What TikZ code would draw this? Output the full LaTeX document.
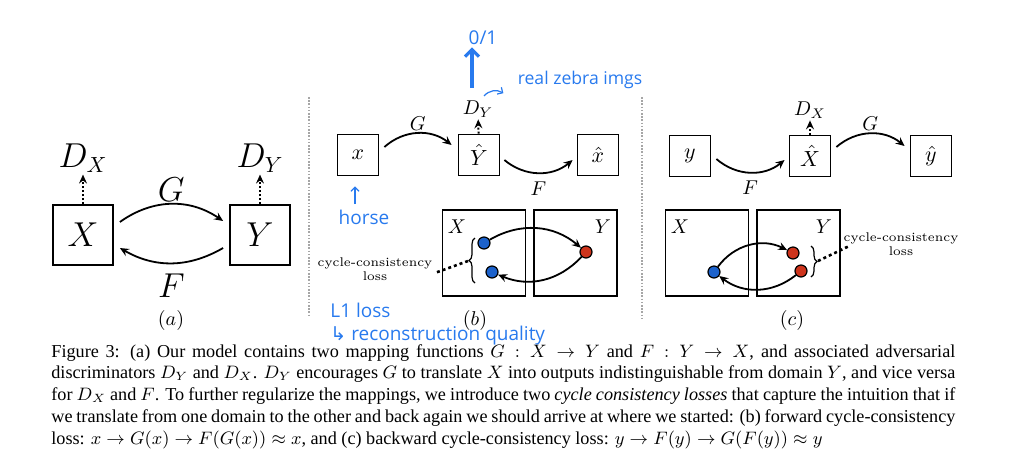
\documentclass[tikz,border=0pt]{standalone}
\usepackage{amsmath,amssymb}
\usepackage{fontspec}
\newfontfamily\capfont{Liberation Serif}
\newfontfamily\handfont{Open Sans}
\newfontfamily\symfont{DejaVu Sans}
\usepackage{xcolor}
\usetikzlibrary{arrows.meta,positioning,calc,decorations.pathreplacing}
\definecolor{dotblue}{RGB}{28,98,204}
\definecolor{dotred}{RGB}{206,52,28}
\definecolor{pen}{RGB}{40,122,238}

\begin{document}
\begin{tikzpicture}[x=0.5pt,y=-0.5pt,>={Stealth[length=4.5pt,width=4pt,inset=1.6pt]},
 box/.style={draw,line width=0.9pt,minimum size=20.5pt,inner sep=0pt,font=\fontsize{10.5}{12}\selectfont},
 bigbox/.style={box,minimum size=30pt,font=\fontsize{16}{18}\selectfont},
 dom/.style={draw,line width=0.9pt,minimum width=41.5pt,minimum height=43pt,inner sep=0pt},
 samp/.style={circle,draw,line width=0.6pt,minimum size=6pt,inner sep=0pt},
 lbl/.style={inner sep=1pt,font=\fontsize{10}{12}\selectfont},
 biglbl/.style={inner sep=1pt,font=\fontsize{16}{18}\selectfont},
 sub/.style={font=\fontsize{10}{12}\selectfont},
 cc/.style={align=center,inner sep=1pt,font=\fontsize{6.3}{7.2}\selectfont},
 arr/.style={->,line width=0.9pt},
 disc/.style={->,line width=1pt,dash pattern=on 1pt off 1pt},
 lossln/.style={line width=1.3pt,dash pattern=on 1.5pt off 1.5pt},
 brc/.style={decorate,decoration={brace,amplitude=3pt},line width=0.6pt},
 sep/.style={gray!70,line width=0.6pt,dash pattern=on 0.8pt off 0.8pt},
 hand/.style={pen,inner sep=1pt,font=\handfont\fontsize{9.5}{11}\selectfont},
 hthin/.style={pen,line width=0.6pt,->,>={Straight Barb[length=2pt,width=4pt]}},
 harr/.style={pen,line width=1.6pt,->,>={Straight Barb[length=3.5pt,width=7pt]}}]
 \useasboundingbox (0,0) rectangle (1024,462);
 % (a)
 \node[bigbox] (X) at (83,235) {$X$};
 \node[bigbox] (Y) at (260,235) {$Y$};
 \node[biglbl,anchor=base] (DX) at (83,167) {$D_X$};
 \node[biglbl,anchor=base] (DY) at (260,167) {$D_Y$};
 \draw[disc] (X) -- (DX);
 \draw[disc] (Y) -- (DY);
 \draw[arr] ([shift={(6,-13)}]X.east) to[bend left=35] node[biglbl,above] {$G$} ([shift={(-6,-14)}]Y.west);
 \draw[arr] ([shift={(-6,13)}]Y.west) to[bend left=30] node[biglbl,below=4pt] {$F$} ([shift={(6,13)}]X.east);
 \node[sub] (la) at (171,320) {$(a)$};
 \draw[sep] (309,97) -- (309,315);
 % (b) forward cycle
 \node[box] (xb) at (358,155) {$x$};
 \node[box] (Yb) at (479,155) {$\hat{Y}$};
 \node[box] (xhb) at (598,155) {$\hat{x}$};
 \node[lbl,anchor=base] (DYb) at (478,114) {$D_Y$};
 \draw[disc] (Yb) -- (DYb);
 \draw[arr] ([shift={(5,-8)}]xb.east) to[bend left=40] node[lbl,above] {$G$} ([shift={(-6,-10)}]Yb.west);
 \draw[arr] ([shift={(4,5)}]Yb.east) to[bend right=40] node[lbl,below=3pt] {$F$} ([shift={(-4,5)}]xhb.west);
 \node[dom] (XB) at (484,253) {};
 \node[dom] (YB) at (575.5,253) {};
 \node[lbl] (XBl) at (457,227) {$X$};
 \node[lbl] (YBl) at (603,227) {$Y$};
 \node[samp,fill=dotblue] (b1) at (484,243) {};
 \node[samp,fill=dotblue] (b2) at (492,272) {};
 \node[samp,fill=dotred] (r1) at (586,252) {};
 \draw[arr] (b1) to[bend left=35] (r1);
 \draw[arr] (r1) to[bend left=35] (b2);
 \draw[brc] (475,283) -- (475,238);
 \coordinate (bt) at (468,261);
 \node[cc] (clb) at (375,269) {cycle-consistency\\loss};
 \draw[lossln] (bt) -- ([yshift=-2pt]clb.east);
 \node[sub] (lb) at (475,320) {$(b)$};
 \draw[sep] (642,97) -- (642,318);
 % (c) backward cycle
 \node[box] (yc) at (690,156) {$y$};
 \node[box] (Xc) at (810,156) {$\hat{X}$};
 \node[box] (yhc) at (931,156) {$\hat{y}$};
 \node[lbl,anchor=base] (DXc) at (810,115) {$D_X$};
 \draw[disc] (Xc) -- (DXc);
 \draw[arr] ([shift={(5,3)}]yc.east) to[bend right=40] node[lbl,below=3pt] {$F$} ([shift={(-4,4)}]Xc.west);
 \draw[arr] ([shift={(5,-9)}]Xc.east) to[bend left=40] node[lbl,above] {$G$} ([shift={(-5,-10)}]yhc.west);
 \node[dom] (XC) at (707,253) {};
 \node[dom] (YC) at (798.5,253) {};
 \node[lbl] (XCl) at (680,227) {$X$};
 \node[lbl] (YCl) at (824,227) {$Y$};
 \node[samp,fill=dotblue] (c1) at (714,272) {};
 \node[samp,fill=dotred] (c2) at (793,253) {};
 \node[samp,fill=dotred] (c3) at (801,271) {};
 \draw[arr] (c1) to[bend left=40] (c2);
 \draw[arr] (c3) to[bend left=38] (c1);
 \draw[brc] (811,246) -- (811,277);
 \coordinate (ct) at (818,261);
 \node[cc] (clc) at (901,244) {cycle-consistency\\loss};
 \draw[lossln] (ct) -- ([shift={(8,2)}]clc.west);
 \node[sub] (lc) at (792,320) {$(c)$};
 % pen notes
 \node[hand] (zo) at (483,38) {0/1};
 \coordinate (ha) at (472,88);
 \draw[harr] (ha) -- (ha |- zo.south);
 \node[hand,font=\handfont\fontsize{8.8}{10}\selectfont] (rz) at (580,80) {real zebra imgs};
 \draw[hthin] ([shift={(6,-2)}]DYb.north) to[bend left=40] ([shift={(-12,2)}]rz.south west);
 \node[hand] (hs) at (364,217) {horse};
 \coordinate (hb) at (355,204);
 \draw[hthin,shorten >=5pt] (hb) -- (hb |- xb.south);
 \node[hand,anchor=west] (l1) at (328,310) {L1 loss};
 \node[hand,anchor=west] (rq) at (328,336) {{\symfont ↳} reconstruction quality};
 % caption
 \node[anchor=north west,inner sep=0pt,text width=452pt,align=justify,font=\capfont\fontsize{9.1}{10.85}\selectfont] (cap) at (51,344)
 {Figure 3: (a) Our model contains two mapping functions $G : X \rightarrow Y$ and $F : Y \rightarrow X$, and associated adversarial\linebreak
 discriminators $D_Y$ and $D_X$. $D_Y$ encourages $G$ to translate $X$ into outputs indistinguishable from domain $Y$, and vice versa\linebreak
 for $D_X$ and $F$. To further regularize the mappings, we introduce two \emph{cycle consistency losses} that capture the intuition that if\linebreak
 we translate from one domain to the other and back again we should arrive at where we started: (b) forward cycle-consistency\linebreak
 loss: $x \rightarrow G(x) \rightarrow F(G(x)) \approx x$, and (c) backward cycle-consistency loss: $y \rightarrow F(y) \rightarrow G(F(y)) \approx y$};
\end{tikzpicture}
\end{document}
